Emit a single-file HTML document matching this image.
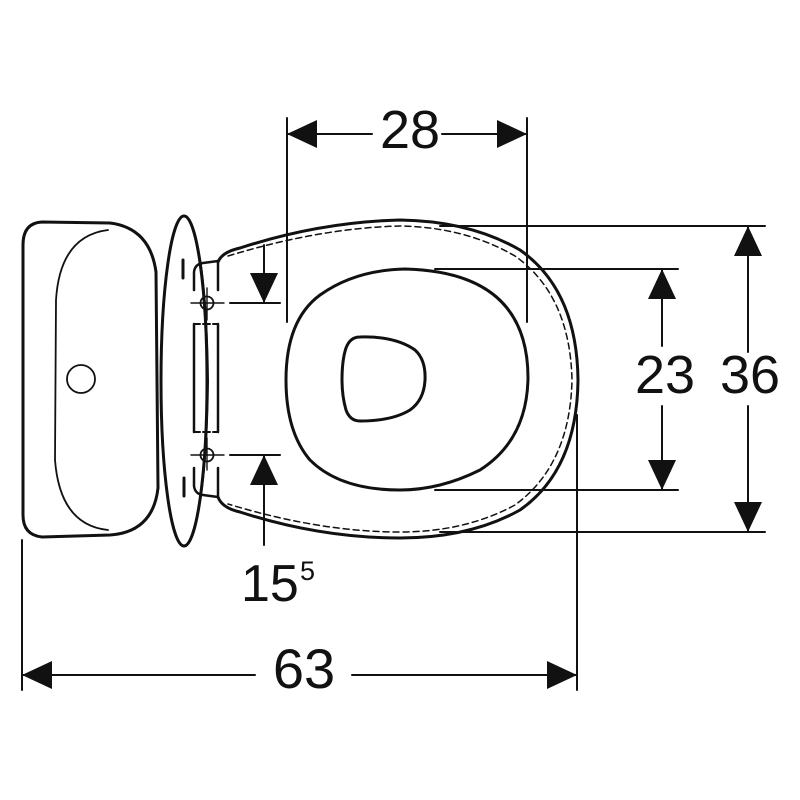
<!DOCTYPE html>
<html><head><meta charset="utf-8"><style>
html,body{margin:0;padding:0;background:#fff;}
svg{display:block;}
text{font-family:"Liberation Sans",Arial,sans-serif;fill:#111;}
</style></head><body>
<svg width="800" height="800" viewBox="0 0 800 800" xmlns="http://www.w3.org/2000/svg">
<rect width="800" height="800" fill="#fff"/>
<g fill="none" stroke="#111" stroke-linecap="round" stroke-linejoin="round">
<path d="M42,222 L110,223 Q150,228 156,272 L158,488 Q153,532 110,535 L42,537 Q23,535 23,515 L23,245 Q23,223 42,222 Z" stroke-width="3"/>
<path d="M108,230 Q60,236 56,300 L55,460 Q60,525 108,530" stroke-width="1.8"/>
<circle cx="81" cy="379" r="14" stroke-width="1.8"/>
<ellipse cx="184" cy="381" rx="23" ry="165" stroke-width="3"/>
<path d="M186,216 Q206,240 208,381 Q206,520 186,546" stroke-width="2"/>
<path d="M183,260 L183,278 M184,478 L184,496" stroke-width="3"/>
<path d="M194,290 L194,272 Q195,264 203,263 L218,261 L218,290" stroke-width="2.5"/>
<path d="M194,468 L194,486 Q195,494 203,495 L218,497 L218,468" stroke-width="2.5"/>
<path d="M194,324 L194,432 M218,324 L218,432" stroke-width="2.5"/>
<path d="M194,324 L200,324 M203,324 L210,324 M213,324 L218,324 M194,432 L200,432 M203,432 L210,432 M213,432 L218,432" stroke-width="2"/>
<circle cx="207" cy="303" r="6.5" stroke-width="1.8"/>
<circle cx="207" cy="455" r="6.5" stroke-width="1.8"/>
<path d="M191,303 L224,303 M207,288 L207,320 M191,455 L224,455 M207,438 L207,470" stroke-width="1.4"/>
<path d="M218,262 Q222,252 240,248 Q320,222 400,220 Q470,221 520,250 Q577,290 578,380 Q577,470 520,510 Q470,538 400,538 Q320,538 240,512 Q222,508 218,497" stroke-width="3"/>
<path d="M228,256 Q320,228 400,226 Q465,227 515,256 Q570,295 572,380 Q570,465 515,505 Q465,532 400,532 Q320,532 228,504" stroke-width="1.5" stroke-dasharray="6,4"/>
<path d="M405,269 Q528,272 528,378 Q527,440 480,470 Q440,490 400,490 Q340,490 310,460 Q286,432 286,380 Q286,320 320,295 Q355,270 405,269 Z" stroke-width="3"/>
<path d="M360,337 Q395,336 415,350 Q426,360 425,380 Q424,400 410,410 Q392,421 360,421 Q350,421 346,410 Q342,396 342,380 Q342,360 346,348 Q350,337 360,337 Z" stroke-width="3"/>
<g stroke-width="2">
<path d="M287,118 L287,322 M527,118 L527,322"/>
<path d="M287,134 L372,134 M442,134 L527,134"/>
<path d="M440,226 L765,226 M440,532 L765,532"/>
<path d="M748,226 L748,352 M748,406 L748,532"/>
<path d="M435,269 L678,269 M435,490 L678,490"/>
<path d="M662,269 L662,346 M662,406 L662,490"/>
<path d="M22,540 L22,690 M577,415 L577,690"/>
<path d="M22,675 L255,675 M352,675 L577,675"/>
<path d="M230,303 L280,303 M230,455 L280,455"/>
<path d="M264,245 L264,303 M264,455 L264,545"/>
</g>
</g>
<g fill="#111">
<path d="M287,134 L317,120 L317,148 Z"/>
<path d="M527,134 L497,120 L497,148 Z"/>
<path d="M748,226 L734,256 L762,256 Z"/>
<path d="M748,532 L734,502 L762,502 Z"/>
<path d="M662,269 L648,299 L676,299 Z"/>
<path d="M662,490 L648,460 L676,460 Z"/>
<path d="M22,675 L52,661 L52,689 Z"/>
<path d="M577,675 L547,661 L547,689 Z"/>
<path d="M264,303 L250,273 L278,273 Z"/>
<path d="M264,455 L250,485 L278,485 Z"/>
</g>
<text x="410" y="148" font-size="54" text-anchor="middle">28</text>
<text x="665" y="393" font-size="54" text-anchor="middle">23</text>
<text x="750" y="393" font-size="54" text-anchor="middle">36</text>
<text x="304" y="688" font-size="56" text-anchor="middle">63</text>
<text x="241" y="601" font-size="52">15</text>
<text x="300" y="580" font-size="27">5</text>
</svg>
</body></html>
